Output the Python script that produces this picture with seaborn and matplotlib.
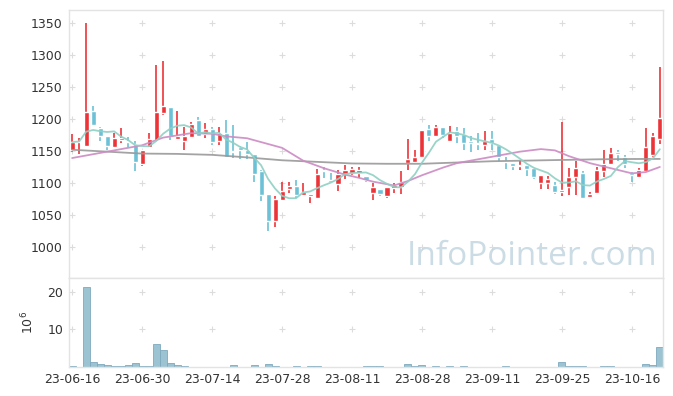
import numpy as np
import pandas as pd
import seaborn as sns
import matplotlib.pyplot as plt

## Datos
holidays = ['2023-08-15', '2023-09-28', '2023-09-29', '2023-10-02', '2023-10-03', '2023-10-09']
dates = [d for d in pd.bdate_range('2023-06-16', '2023-10-20') if d.strftime('%Y-%m-%d') not in holidays]

open_ = [1151, 1164, 1158, 1213, 1186, 1174, 1157, 1168, 1166, 1161,
         1130, 1157, 1168, 1210, 1219, 1169, 1166, 1172, 1199, 1176,
         1184, 1165, 1178, 1149, 1157, 1151, 1145, 1118, 1083, 1041,
         1073, 1090, 1095, 1081, 1079, 1077, 1120, 1105, 1098, 1114,
         1115, 1115, 1111, 1084, 1091, 1080, 1092, 1094, 1131, 1133,
         1141, 1184, 1174, 1187, 1165, 1181, 1177, 1166, 1162, 1160,
         1169, 1160, 1134, 1131, 1126, 1128, 1124, 1100, 1100, 1096,
         1086, 1094, 1109, 1115, 1078, 1084, 1119, 1129, 1148, 1141,
         1116, 1110, 1119, 1144, 1169]
high = [1177, 1170, 1350, 1220, 1188, 1174, 1178, 1186, 1172, 1165,
        1152, 1179, 1285, 1291, 1219, 1212, 1188, 1195, 1203, 1194,
        1188, 1187, 1198, 1191, 1158, 1164, 1145, 1120, 1083, 1080,
        1102, 1102, 1105, 1100, 1083, 1122, 1125, 1115, 1121, 1128,
        1125, 1125, 1111, 1100, 1091, 1093, 1100, 1118, 1169, 1152,
        1183, 1191, 1191, 1187, 1189, 1188, 1186, 1173, 1178, 1181,
        1181, 1160, 1140, 1131, 1135, 1128, 1124, 1113, 1111, 1102,
        1195, 1123, 1135, 1119, 1085, 1125, 1152, 1154, 1152, 1144,
        1117, 1123, 1186, 1179, 1281]
low = [1149, 1145, 1157, 1190, 1166, 1152, 1155, 1162, 1157, 1118,
       1127, 1155, 1168, 1207, 1167, 1169, 1151, 1172, 1172, 1170,
       1160, 1160, 1139, 1139, 1137, 1137, 1101, 1071, 1024, 1031,
       1073, 1084, 1076, 1080, 1068, 1076, 1107, 1102, 1088, 1106,
       1113, 1107, 1101, 1074, 1079, 1076, 1084, 1083, 1121, 1133,
       1141, 1165, 1173, 1170, 1164, 1162, 1152, 1149, 1151, 1152,
       1152, 1135, 1122, 1121, 1121, 1111, 1106, 1090, 1090, 1083,
       1080, 1081, 1081, 1076, 1076, 1084, 1110, 1129, 1135, 1123,
       1102, 1109, 1119, 1140, 1161]
close = [1164, 1166, 1211, 1191, 1173, 1158, 1171, 1170, 1164, 1133,
         1151, 1169, 1211, 1221, 1173, 1174, 1174, 1193, 1173, 1184,
         1164, 1179, 1140, 1148, 1151, 1145, 1114, 1081, 1041, 1075,
         1088, 1095, 1081, 1086, 1083, 1114, 1118, 1102, 1114, 1121,
         1122, 1121, 1104, 1093, 1082, 1093, 1096, 1101, 1138, 1141,
         1183, 1174, 1187, 1175, 1178, 1174, 1162, 1163, 1161, 1166,
         1162, 1141, 1133, 1126, 1128, 1122, 1109, 1113, 1106, 1086,
         1089, 1109, 1123, 1076, 1082, 1121, 1129, 1147, 1145, 1129,
         1112, 1121, 1156, 1174, 1201]
volume = [0.3, 0.1, 21.3, 1.2, 0.7, 0.45, 0.2, 0.2, 0.45, 1.0,
          0.2, 0.2, 6.1, 4.4, 1.0, 0.5, 0.2, 0.1, 0.1, 0.1,
          0.1, 0.1, 0.1, 0.45, 0.1, 0.1, 0.45, 0.1, 0.7, 0.2,
          0.1, 0.1, 0.2, 0.1, 0.2, 0.2, 0.1, 0.1, 0.1, 0.1,
          0.1, 0.1, 0.2, 0.2, 0.2, 0.1, 0.1, 0.1, 0.7, 0.2,
          0.55, 0.1, 0.2, 0.1, 0.2, 0.1, 0.2, 0.1, 0.1, 0.1,
          0.1, 0.1, 0.2, 0.1, 0.1, 0.1, 0.1, 0.1, 0.1, 0.1,
          1.2, 0.2, 0.2, 0.2, 0.1, 0.1, 0.2, 0.2, 0.1, 0.1,
          0.1, 0.1, 0.7, 0.45, 5.2]

# medias móviles de 20 y 60 días
ma20_idx = [0, 5, 10, 13, 17, 20, 22, 25, 27, 30, 33, 36, 39, 41, 43, 46, 48, 50, 53, 55,
            59, 64, 67, 69, 71, 74, 77, 80, 82, 84]
ma20_val = [1139, 1149, 1159, 1171, 1178, 1177, 1173, 1170, 1164, 1155, 1135, 1123, 1113, 1108,
            1102, 1096, 1103, 1112, 1124, 1131, 1139, 1149, 1153, 1151, 1142, 1131, 1123, 1115,
            1117, 1125]
ma60_idx = [0, 5, 10, 15, 20, 25, 30, 35, 40, 45, 50, 55, 60, 65, 70, 75, 80, 84]
ma60_val = [1152, 1149, 1146, 1145.5, 1144, 1140, 1135.5, 1133, 1130.5, 1130, 1130, 1132,
            1134, 1135, 1136, 1137, 1137.5, 1137.6]

df = pd.DataFrame({'open': open_, 'high': high, 'low': low, 'close': close, 'volume': volume})
df['idx'] = np.arange(len(df))
df['ma5'] = df['close'].rolling(5, min_periods=1).mean()
up = df['close'] >= df['open']

RED = '#ec3338'
BLUE = '#6cc1d6'

sns.set_style('white')
plt.rcParams['font.family'] = ['DejaVu Sans']

fig = plt.figure(figsize=(6.73, 3.96), dpi=100)
ax = fig.add_axes([69/673, 1 - 278/396, 594/673, 268/396])
axv = fig.add_axes([69/673, 1 - 367/396, 594/673, 89/396], sharex=ax)

# grilla de "+"
xt = np.arange(0, 85, 10)
for yy in range(1000, 1351, 50):
    ax.scatter(xt, [yy] * len(xt), marker='+', s=20, color='#dcdcdc', lw=0.8, zorder=0)
for yy in [10, 20]:
    axv.scatter(xt, [yy] * len(xt), marker='+', s=20, color='#dcdcdc', lw=0.8, zorder=0)

# velas
colors = np.where(up, RED, BLUE)
ax.vlines(df['idx'], df['low'], df['high'], colors=colors, lw=1.2, zorder=2)
body_bottom = np.minimum(df['open'], df['close'])
body_h = np.maximum(np.abs(df['close'] - df['open']), 1.5)
ax.bar(df['idx'], body_h, bottom=body_bottom, width=0.72, color=colors, zorder=3)

# medias móviles
sns.lineplot(x=ma60_idx, y=ma60_val, ax=ax, color='#999999', lw=1.3, alpha=0.9, zorder=4)
sns.lineplot(x=ma20_idx, y=ma20_val, ax=ax, color='#cc8bc4', lw=1.3, alpha=0.9, zorder=4)
sns.lineplot(data=df, x='idx', y='ma5', ax=ax, color='#8fd0c4', lw=1.3, alpha=0.9, zorder=4)

ax.text(0.99, 0.02, 'InfoPointer.com', transform=ax.transAxes, ha='right', va='bottom',
        fontsize=24, color='#c2d6e1', alpha=0.85, family=['Open Sans', 'DejaVu Sans'])

ax.set_ylim(951, 1371)
ax.set_xlim(-0.45, 84.45)
ax.set_yticks(range(1000, 1351, 50))
ax.set_xlabel('')
ax.set_ylabel('')
ax.tick_params(axis='x', bottom=False, labelbottom=False)
ax.tick_params(axis='y', length=0, labelsize=9, labelcolor='#333333', pad=5)

# volumen
axv.bar(df['idx'], df['volume'], width=1.0, color='#9cc3d2', edgecolor='#7eaabd', lw=0.6, zorder=2)
axv.set_ylim(0, 23.6)
axv.set_yticks([10, 20])
axv.set_xticks(xt)
axv.set_xticklabels([dates[i].strftime('%y-%m-%d') for i in xt])
axv.tick_params(axis='both', length=0, labelsize=9, labelcolor='#333333', pad=4)
axv.set_ylabel('10$^6$', fontsize=9, color='#333333', labelpad=8)

for a in (ax, axv):
    for s in a.spines.values():
        s.set_color('#e3e3e3')
        s.set_linewidth(1)

fig.savefig('out.png', dpi=100)
